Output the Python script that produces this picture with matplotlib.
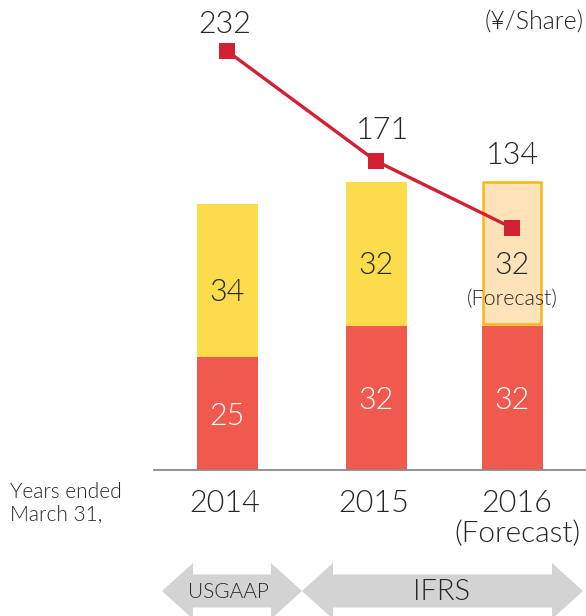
import matplotlib
matplotlib.use("Agg")
import matplotlib.pyplot as plt
from matplotlib.patches import Polygon
from matplotlib import font_manager
import numpy as np

# ---------------- data ----------------
years = ["2014", "2015", "2016"]
year_notes = ["", "", "(Forecast)"]
interim = [25, 32, 32]          # red (bottom)
year_end = [34, 32, 32]         # yellow (top)
year_end_notes = ["", "", "(Forecast)"]
eps = [232, 171, 134]           # line (¥/Share)
unit_label = "(¥/Share)"
axis_note = "Years ended\nMarch 31,"
gaap_labels = ["USGAAP", "IFRS"]

# ---------------- style ----------------
plt.rcParams['font.family'] = ['Lato', 'DejaVu Sans']
plt.rcParams['font.weight'] = 300
names = sorted({f.name for f in font_manager.fontManager.ttflist})
narrow = "Liberation Sans Narrow" if "Liberation Sans Narrow" in names else "Lato"

W, H = 586, 616
DPI = 100
fig = plt.figure(figsize=(W / DPI, H / DPI), dpi=DPI)

RED = "#f05a4e"
YELLOW = "#fddc4c"
FC_FACE = "#fee3b9"
FC_EDGE = "#fbb616"
LINE = "#d21f32"
TXT = "#262626"
GREY = "#d3d3d3"

px = 72.0 / DPI  # points per pixel

# background overlay axes (pixel coordinates) for the regime arrows
ov = fig.add_axes([0, 0, 1, 1], zorder=0)
ov.set_xlim(0, W)
ov.set_ylim(H, 0)
ov.axis("off")

# main axes
base_y = 469.7
left_px = 154
ax = fig.add_axes([left_px / W, (H - base_y) / H, 1 - left_px / W, base_y / H], zorder=2)
ax.patch.set_alpha(0)
xpos = np.array([0.0, 1.0, 1.913])   # slot layout (uneven spacing as in the original)
unit_px = 149.0
ax.set_xlim(-(227 - left_px) / unit_px, (W - 227) / unit_px)
ax.set_ylim(0, base_y / 4.5)
bw = 61 / unit_px

for s in ["top", "right", "left"]:
    ax.spines[s].set_visible(False)
ax.spines["bottom"].set_color("#8a8a8a")
ax.spines["bottom"].set_linewidth(1.3)
ax.set_yticks([])
ax.set_xticks([])

# bars
ax.bar(xpos, interim, width=bw, color=RED, linewidth=0, zorder=2)
for i in range(len(years)):
    if year_end_notes[i]:
        ax.bar(xpos[i], year_end[i] - 0.35, width=bw - 0.02, bottom=interim[i] + 0.35,
               color=FC_FACE, edgecolor=FC_EDGE, linewidth=1.8, zorder=2)
    else:
        ax.bar(xpos[i], year_end[i], width=bw, bottom=interim[i],
               color=YELLOW, linewidth=0, zorder=2)

# bar labels
for i in range(len(years)):
    ax.annotate(str(interim[i]), (xpos[i], interim[i] / 2), xytext=(0, -3 * px),
                textcoords="offset points", ha="center", va="center",
                color="white", fontsize=22, zorder=5)
    yc = interim[i] + year_end[i] / 2
    ax.annotate(str(year_end[i]), (xpos[i], yc), xytext=(0, -12 * px),
                textcoords="offset points", ha="center", va="center",
                color=TXT, fontsize=22, zorder=5)
    if year_end_notes[i]:
        ax.annotate(year_end_notes[i], (xpos[i], yc), xytext=(0, -45 * px),
                    textcoords="offset points", ha="center", va="center",
                    color=TXT, fontsize=15.5, zorder=5)

# category labels
for i in range(len(years)):
    dx = 5 if year_notes[i] else -2
    ax.annotate(years[i], (xpos[i], 0), xytext=(dx * px, -42 * px),
                textcoords="offset points", ha="center", va="baseline",
                color=TXT, fontsize=22, annotation_clip=False)
    if year_notes[i]:
        ax.annotate(year_notes[i], (xpos[i], 0), xytext=(5 * px, -72 * px),
                    textcoords="offset points", ha="center", va="baseline",
                    color=TXT, fontsize=21.5, annotation_clip=False)

fig.text(10 / W, 1 - 503 / H, axis_note, ha="left", va="center", color=TXT,
         fontsize=15, linespacing=1.15)

# line on twin scale
ax2 = ax.twinx()
ax2.set_zorder(3)
ax2.patch.set_alpha(0)
ax2.set_ylim(0, base_y / 1.805)
ax2.axis("off")
ax2.plot(xpos, eps, color=LINE, linewidth=2.4, marker="s", markersize=11.5,
         markerfacecolor=LINE, markeredgewidth=0, zorder=4)
offsets = [(-2, 18), (6, 22), (0, 64)]
for i, v in enumerate(eps):
    ax2.annotate(str(v), (xpos[i], v), xytext=(offsets[i][0] * px, offsets[i][1] * px),
                 textcoords="offset points", ha="center", va="baseline",
                 color=TXT, fontsize=22, annotation_clip=False)

fig.text(584 / W, 1 - 23 / H, unit_label, ha="right", va="center", color=TXT, fontsize=18)

# regime arrows
def dbl_arrow(x0, x1, cy, hl, hh, sh):
    return [(x0, cy), (x0 + hl, cy - hh), (x0 + hl, cy - sh), (x1 - hl, cy - sh),
            (x1 - hl, cy - hh), (x1, cy), (x1 - hl, cy + hh), (x1 - hl, cy + sh),
            (x0 + hl, cy + sh), (x0 + hl, cy + hh)]

cy = 591
ov.add_patch(Polygon(dbl_arrow(162, 302, cy, 31, 28, 16.5), closed=True,
                     facecolor=GREY, edgecolor="none"))
ov.add_patch(Polygon(dbl_arrow(302, 583, cy, 31, 28, 16.5), closed=True,
                     facecolor=GREY, edgecolor="none"))
ov.text(228, cy + 1, gaap_labels[0], ha="center", va="center", color=TXT,
        fontsize=16 if narrow != "Lato" else 15, family=[narrow, "DejaVu Sans"],
        fontweight=400 if narrow != "Lato" else 300)
ov.text(442, cy + 1, gaap_labels[1], ha="center", va="center", color=TXT, fontsize=21)

fig.savefig("out.png", dpi=DPI)
